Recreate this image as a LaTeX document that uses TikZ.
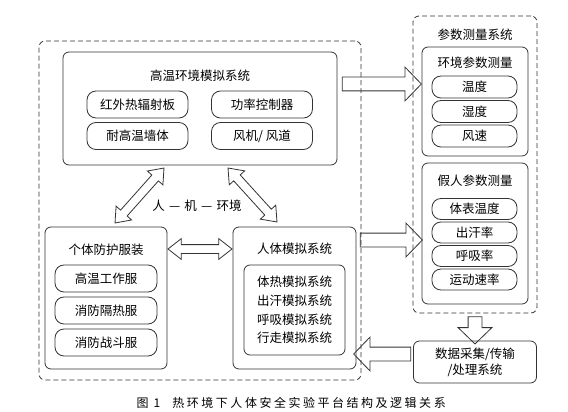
\documentclass[tikz,border=0pt]{standalone}
\usepackage{fontspec}
\setmainfont{Noto Sans CJK SC}
\newfontfamily\capfont[LetterSpace=21]{Noto Sans CJK SC}
\usepackage{tkz-euclide}
\usetikzlibrary{shapes.arrows,calc}
\tikzset{
  box/.style={draw=black!80, line width=0.8pt, rounded corners=6pt},
  dashbox/.style={box, dash pattern=on 5pt off 3pt},
  pill/.style={box, rounded corners=9pt},
  bigarr/.style={single arrow, draw=black!80, line width=0.8pt, inner xsep=0pt, inner ysep=6.5pt,
    minimum width=33pt, single arrow head extend=10pt, single arrow head indent=0pt, single arrow tip angle=92},
  dblarr/.style={double arrow, draw=black!80, line width=0.8pt, inner xsep=0pt, inner ysep=4pt,
    minimum width=20pt, double arrow head extend=6pt, double arrow head indent=0pt, double arrow tip angle=76}
}
\newcommand\blockarrow[3][bigarr]{%
  \path let \p1=($(#3)-(#2)$), \n1={veclen(\x1,\y1)} in
    (#2) -- node[#1, sloped, allow upside down, minimum height=\n1] {} (#3);}
\begin{document}
\begin{tikzpicture}[x=1pt, y=-1pt, every node/.style={font=\fontsize{12.5}{15}\selectfont}]
    \useasboundingbox (0,0) rectangle (568,412);
    \node[dashbox, minimum width=322, minimum height=339] (lab) at (200,210.5) {};
    \node[box, minimum width=274, minimum height=113] (env) at (200,108.5) {};
    \node (envt) at (200,76) {高温环境模拟系统};
    \node[pill, minimum width=101, minimum height=27] (ir) at (137.5,104.5) {红外热辐射板};
    \node[pill, minimum width=101, minimum height=27] (pwr) at (262,104.5) {功率控制器};
    \node[pill, minimum width=101, minimum height=27] (wall) at (137.5,136) {耐高温墙体};
    \node[pill, minimum width=101, minimum height=27] (fan) at (262,136) {风机/ 风道};
    \node[box, minimum width=122, minimum height=142] (suit) at (106,298) {};
    \node (suitt) at (106,250) {个体防护服装};
    \node[pill, minimum width=102, minimum height=27] (s1) at (106,278.5) {高温工作服};
    \node[pill, minimum width=102, minimum height=27] (s2) at (106,310.5) {消防隔热服};
    \node[pill, minimum width=102, minimum height=27] (s3) at (106,342.5) {消防战斗服};
    \node[box, minimum width=123, minimum height=142] (body) at (294.5,298) {};
    \node (bodyt) at (294.5,249) {人体模拟系统};
    \node[box, minimum width=101, minimum height=90, align=center, font=\fontsize{12.5}{18.7}\selectfont] (bsub) at (294.5,310)
      {体热模拟系统\\出汗模拟系统\\呼吸模拟系统\\行走模拟系统};
    \node (hme) at (197,206) {人\,\,—\,\,机\,\,—\,\,环境};
    \node[dashbox, minimum width=124, minimum height=297] (meas) at (475,164.5) {};
    \node (meast) at (475,35) {参数测量系统};
    \node[box, minimum width=106, minimum height=109] (envm) at (475,101.5) {};
    \node (envmt) at (475,63) {环境参数测量};
    \node[pill, minimum width=85, minimum height=22] (m1) at (474.5,87) {温度};
    \node[pill, minimum width=85, minimum height=22] (m2) at (474.5,111.5) {湿度};
    \node[pill, minimum width=85, minimum height=22] (m3) at (474.5,136) {风速};
    \node[box, minimum width=106, minimum height=141] (dum) at (475,233.5) {};
    \node (dumt) at (475,181) {假人参数测量};
    \node[pill, minimum width=85, minimum height=21] (p1) at (474.5,209) {体表温度};
    \node[pill, minimum width=85, minimum height=21] (p2) at (474.5,232.5) {出汗率};
    \node[pill, minimum width=85, minimum height=21] (p3) at (474.5,256) {呼吸率};
    \node[pill, minimum width=85, minimum height=21] (p4) at (474.5,279.5) {运动速率};
    \node[box, minimum width=123, minimum height=42, align=center, font=\fontsize{12.5}{16}\selectfont] (daq) at (475,362)
      {数据采集/传输\\/处理系统};
    \node[anchor=west, font=\capfont\fontsize{12}{14}\selectfont] (cap) at (133,403) {图 1\hspace{12pt}热环境下人体安全实验平台结构及逻辑关系};
    \tkzDefPoints{339/84/a1,418/84/a2,357/240/b1,419/240/b2,414/354/c1,357/354/c2}
    \tkzDefPoints{168/249/d1,232/249/d2,115/223/e1,164/168/e2,228/168/f1,277/222/f2}
    \blockarrow{a1}{a2}
    \blockarrow{b1}{b2}
    \blockarrow{meas.south}{daq.north}
    \blockarrow{c1}{c2}
    \blockarrow[dblarr]{d1}{d2}
    \blockarrow[dblarr]{e1}{e2}
    \blockarrow[dblarr]{f1}{f2}
\end{tikzpicture}
\end{document}
